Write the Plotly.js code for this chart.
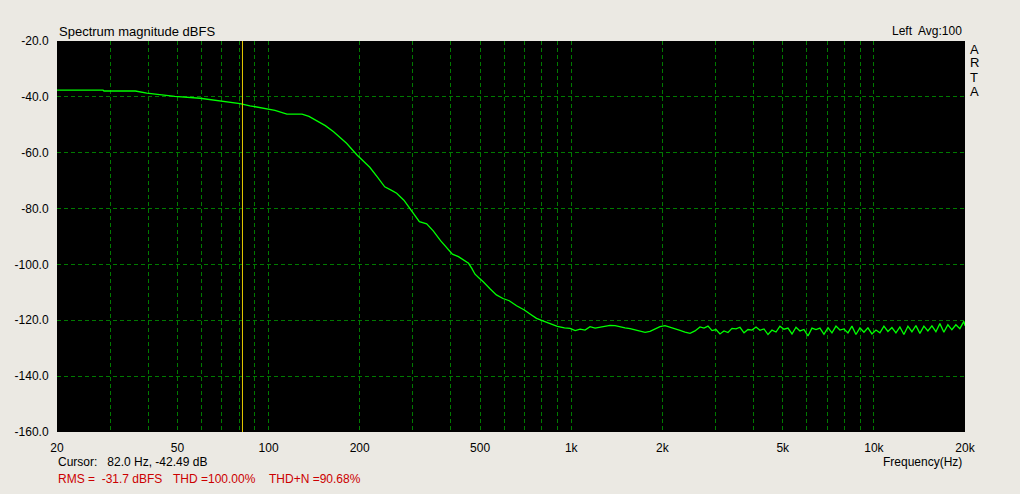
<!DOCTYPE html>
<html>
<head>
<meta charset="utf-8">
<script src="https://cdn.plot.ly/plotly-3.0.1.min.js"></script>
<style>
html,body{margin:0;padding:0;background:#ebe9e3;}
#chart{width:1020px;height:494px;}
</style>
</head>
<body>
<div id="chart"></div>
<script>
// Spectrum data (frequency in Hz, level in dBFS)
const freqHz = [
  20, 28.4, 28.6, 36.3, 39.6, 43.7, 49.0, 59.4, 69.1, 80.5, 86.8, 98.8, 105, 115, 129,
  136, 144, 154, 164, 172, 181, 196, 205, 216, 228, 242, 255, 265, 280, 293, 305, 315,
  333, 350, 370, 388, 405, 424, 440, 458, 470, 481, 495, 512, 540, 566, 595, 624, 660,
  700, 735, 768, 810, 852, 900, 950,
  991, 1031, 1070, 1111, 1154, 1199, 1245, 1293, 1344, 1396, 1450, 1506, 1565, 1625,
  1688, 1754, 1821, 1892, 1965, 2041, 2121, 2203, 2288, 2377, 2469, 2564,
  2664, 2746, 2831, 2919, 3009, 3101, 3197, 3296, 3398, 3503, 3611, 3723, 3838, 3957, 4079,
  4204, 4334, 4468, 4606, 4749, 4894, 5046, 5202, 5363, 5529, 5698, 5874, 6056, 6243, 6436,
  6634, 6840, 7051, 7269, 7494,
  7723, 7962, 8209, 8462, 8724, 8992, 9270, 9557, 9853, 10157, 10469, 10793, 11127, 11471,
  11826, 12188,
  12565, 12954, 13355, 13768, 14190, 14629, 15082, 15549, 16030, 16521, 17032, 17559, 18102,
  18662, 19235, 19830, 20000
];
const levelDb = [
  -37.6, -37.6, -37.9, -37.9, -38.7, -39.3, -39.8, -40.5, -41.5, -42.4, -43.2, -44.2, -44.8, -46.2, -46.2,
  -47.0, -48.5, -50.3, -52.5, -54.5, -56.6, -60.8, -63.0, -65.2, -68.5, -72.2, -73.5, -74.5, -77.0, -79.9, -82.5, -84.7,
  -85.5, -88.0, -91.5, -94.2, -96.3, -97.2, -98.3, -99.6, -101.5, -103.5, -104.8, -106.2, -108.8, -110.9, -112.2, -113.0, -114.8,
  -116.3, -117.9, -119.3, -120.3, -121.1, -122.2, -122.7,
  -122.9, -123.7, -123.2, -123.5, -122.3, -122.8, -122.4, -122.2, -121.8, -121.9, -122.4, -122.7, -123.0, -123.5,
  -124.0, -124.3, -124.0, -123.2, -122.3, -121.9, -122.4, -123.0, -123.6, -124.2, -124.7, -123.8,
  -122.4, -122.8, -122.1, -123.7, -123.3, -124.9, -123.8, -124.4, -122.9, -123.1, -122.5, -124.5, -123.3, -123.5, -122.4,
  -123.6, -123.1, -125.1, -123.5, -124.2, -122.1, -123.2, -122.8, -124.9, -122.5, -123.8, -123.3, -125.6, -122.8, -123.3,
  -122.8, -125.0, -122.6, -124.5, -122.1,
  -123.5, -123.1, -124.5, -122.1, -125.1, -122.7, -124.3, -122.7, -124.9, -123.5, -124.5, -122.1, -124.0, -122.6,
  -124.5, -122.4,
  -125.1, -122.1, -124.1, -121.9, -124.7, -122.1, -123.8, -122.0, -124.1, -121.2, -124.3, -121.6, -123.4,
  -121.6, -123.0, -120.4, -122.0
];

// Axis grid / ticks
const gridFreqs = [20,30,40,50,60,70,80,90,100,200,300,400,500,600,700,800,900,
  1000,2000,3000,4000,5000,6000,7000,8000,9000,10000,20000];
const labeledFreqs = {20:"20",50:"50",100:"100",200:"200",500:"500",1000:"1k",2000:"2k",5000:"5k",10000:"10k",20000:"20k"};
const yTickVals = [-160,-140,-120,-100,-80,-60,-40,-20];
const yTickText = ["-160.0","-140.0","-120.0","-100.0","-80.0","-60.0","-40.0","-20.0"];

// Cursor and info texts
const cursorHz = 82.0;
const titleText = "Spectrum magnitude dBFS";
const channelText = "Left  Avg:100";
const cursorText = "Cursor:   82.0 Hz, -42.49 dB";
const rmsText = "RMS =  -31.7 dBFS";
const thdText = "THD =100.00%";
const thdnText = "THD+N =90.68%";
const brandLetters = ["A","R","T","A"];

const FONT = "Liberation Sans, Arial, sans-serif";
const L = 57, R = 965, T = 41, B = 432;
const px2x = p => (p - L) / (R - L);
const px2y = p => (B - p) / (B - T);

const ann = [];
function addText(text, xpx, ypx, xanchor, color, size) {
  ann.push({text: text, xref: "paper", yref: "paper", x: px2x(xpx), y: px2y(ypx),
    xanchor: xanchor, yanchor: "middle", showarrow: false,
    font: {family: FONT, size: size || 12, color: color || "#000000"}});
}
addText(titleText, 57, 31, "left", "#000", 13);
addText(channelText, 964, 31, "right", "#000", 12);
addText(cursorText, 56, 462, "left", "#000", 12);
addText(rmsText, 56, 479, "left", "#cc0000", 12);
addText(thdText, 171, 479, "left", "#cc0000", 12);
addText(thdnText, 267, 479, "left", "#cc0000", 12);
addText("Frequency(Hz)", 964, 462, "right", "#000", 12);
const brandY = [49, 63, 77, 91];
brandLetters.forEach((c, i) => addText(c, 974, brandY[i], "center", "#000", 13));

const trace = {
  x: freqHz, y: levelDb, type: "scatter", mode: "lines",
  line: {color: "#00ff00", width: 1.3}, hoverinfo: "skip"
};

const layout = {
  width: 1020, height: 494,
  margin: {l: L, r: 1020 - R, t: T, b: 494 - B, pad: 0},
  paper_bgcolor: "#ebe9e3", plot_bgcolor: "#000000",
  showlegend: false,
  font: {family: FONT, size: 12, color: "#000"},
  xaxis: {
    type: "log", range: [Math.log10(20), Math.log10(20000)],
    tickmode: "array", tickvals: gridFreqs,
    ticktext: gridFreqs.map(f => labeledFreqs[f] || ""),
    showgrid: true, gridcolor: "#007a00", griddash: "4px,3px", gridwidth: 1,
    zeroline: false, showline: false,
    ticks: "outside", ticklen: 5, tickcolor: "rgba(0,0,0,0)",
    tickfont: {family: FONT, size: 12, color: "#000"}
  },
  yaxis: {
    range: [-160, -20], tickmode: "array", tickvals: yTickVals, ticktext: yTickText,
    showgrid: true, gridcolor: "#007a00", griddash: "4px,3px", gridwidth: 1,
    zeroline: false, showline: false,
    ticks: "outside", ticklen: 5, tickcolor: "rgba(0,0,0,0)",
    tickfont: {family: FONT, size: 12, color: "#000"}
  },
  shapes: [{
    type: "line", xref: "x", yref: "paper", x0: cursorHz, x1: cursorHz, y0: 0, y1: 1,
    line: {color: "#e6c800", width: 1}
  }],
  annotations: ann
};

Plotly.newPlot("chart", [trace], layout, {staticPlot: true, displayModeBar: false});
</script>
</body>
</html>
